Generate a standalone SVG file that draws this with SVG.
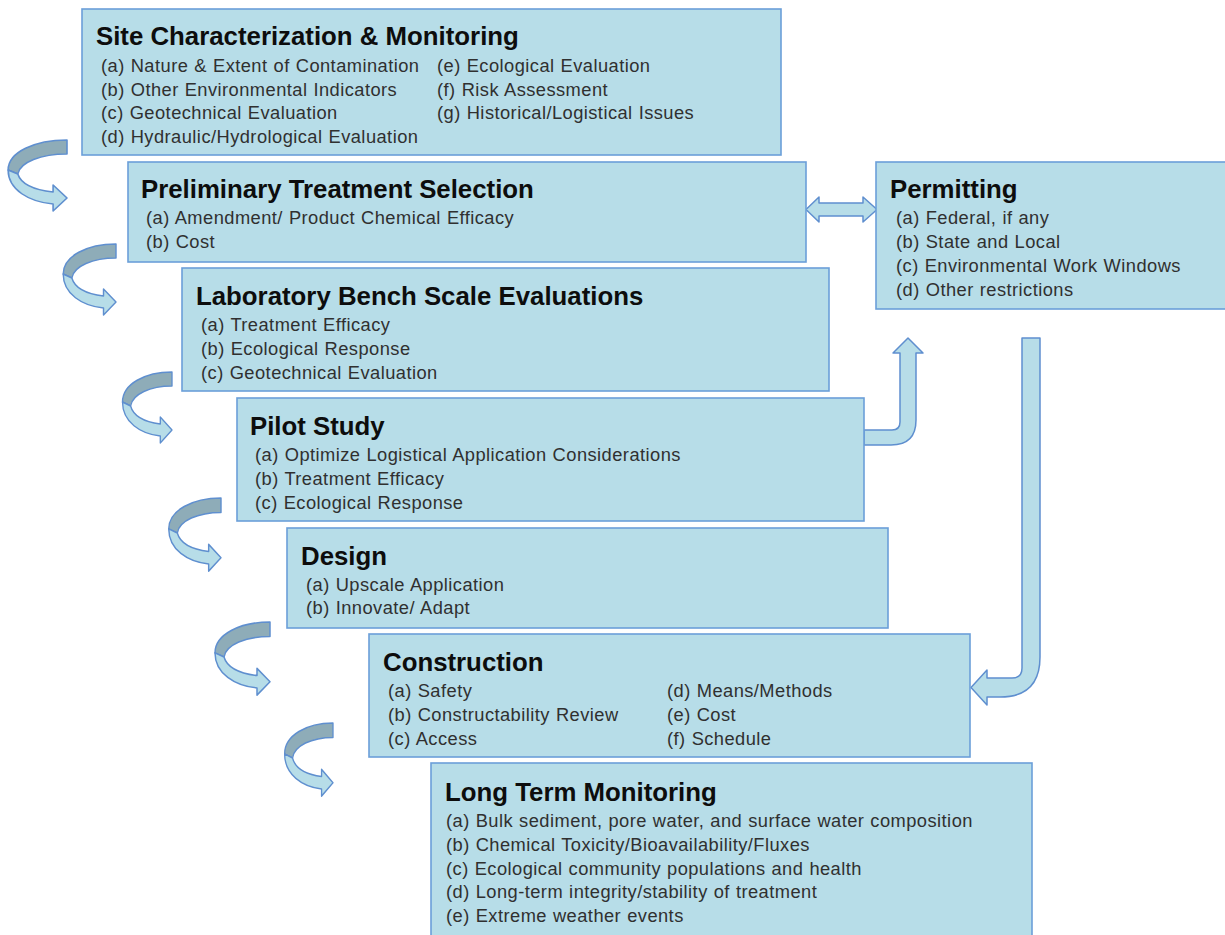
<svg xmlns="http://www.w3.org/2000/svg" width="1225" height="935" viewBox="0 0 1225 935">
<style>
.box{fill:#b7dde8;stroke:#6b9fd9;stroke-width:1.6}
.t{font-family:"Liberation Sans",Arial,sans-serif;font-weight:bold;font-size:25.8px;fill:#0d0d0d}
.i{font-family:"Liberation Sans",Arial,sans-serif;font-size:18.3px;fill:#303030;letter-spacing:0.45px;word-spacing:0.5px}
.arr{fill:#b7dde8;stroke:#5f8fcf;stroke-width:1.5;stroke-linejoin:round}
.dark{fill:#8eacb8;stroke:#5f8fcf;stroke-width:1.5;stroke-linejoin:round}
</style>
<defs>
<g id="curl">
<path class="dark" d="M0,0 C-30,0 -55,12 -55,30 L-46,34 C-44,22 -24,14 0,14 Z"/>
<path class="arr" d="M-55,30 C-55,50 -35,62 -13,64 L-13,71 L0,58 L-13,45 L-13,52 C-30,50 -43,44 -46,34 Z"/>
</g>
</defs>
<rect width="1225" height="935" fill="#ffffff"/>

<g id="connectors">
<use href="#curl" transform="translate(67,140) scale(1.07,1)"/>
<use href="#curl" transform="translate(116,244) scale(0.96,1)"/>
<use href="#curl" transform="translate(172,372) scale(0.9,1)"/>
<use href="#curl" transform="translate(221,498) scale(0.95,1.03)"/>
<use href="#curl" transform="translate(270,622) scale(1,1.03)"/>
<use href="#curl" transform="translate(333,723) scale(0.88,1.03)"/>
<path class="arr" d="M806,209.5 L819,197 L819,203 L863,203 L863,197 L877,209.5 L863,222 L863,216 L819,216 L819,222 Z"/>
<path class="arr" d="M864,430 L892,430 Q900,430 900,422 L900,353 L893,353 L908,338 L923,353 L916,353 L916,420 Q916,445 891,445 L864,445 Z"/>
<path class="arr" d="M1022,338 L1040,338 L1040,657 Q1040,697 1000,697 L987,697 L987,705 L971,687.5 L987,670 L987,678 L1012,678 Q1022,678 1022,668 Z"/>
</g>

<g id="site">
<rect class="box" x="82" y="9" width="699" height="146"/>
<text class="t" x="96" y="44.5">Site Characterization &amp; Monitoring</text>
<text class="i" x="101" y="72">(a) Nature &amp; Extent of Contamination</text>
<text class="i" x="101" y="95.5">(b) Other Environmental Indicators</text>
<text class="i" x="101" y="119">(c) Geotechnical Evaluation</text>
<text class="i" x="101" y="143">(d) Hydraulic/Hydrological Evaluation</text>
<text class="i" x="437" y="72">(e) Ecological Evaluation</text>
<text class="i" x="437" y="95.5">(f) Risk Assessment</text>
<text class="i" x="437" y="119">(g) Historical/Logistical Issues</text>
</g>

<g id="prelim">
<rect class="box" x="128" y="162" width="678" height="100"/>
<text class="t" x="141" y="197.5">Preliminary Treatment Selection</text>
<text class="i" x="146" y="224">(a) Amendment/ Product Chemical Efficacy</text>
<text class="i" x="146" y="248">(b) Cost</text>
</g>

<g id="permitting">
<rect class="box" x="876" y="162" width="352" height="147"/>
<text class="t" x="890" y="197.5">Permitting</text>
<text class="i" x="896" y="224">(a) Federal, if any</text>
<text class="i" x="896" y="248">(b) State and Local</text>
<text class="i" x="896" y="272">(c) Environmental Work Windows</text>
<text class="i" x="896" y="296">(d) Other restrictions</text>
</g>

<g id="lab">
<rect class="box" x="182" y="268" width="647" height="123"/>
<text class="t" x="196" y="304.5">Laboratory Bench Scale Evaluations</text>
<text class="i" x="201" y="331">(a) Treatment Efficacy</text>
<text class="i" x="201" y="355">(b) Ecological Response</text>
<text class="i" x="201" y="379">(c) Geotechnical Evaluation</text>
</g>

<g id="pilot">
<rect class="box" x="237" y="398" width="627" height="123"/>
<text class="t" x="250" y="434.5">Pilot Study</text>
<text class="i" x="255" y="461">(a) Optimize Logistical Application Considerations</text>
<text class="i" x="255" y="485">(b) Treatment Efficacy</text>
<text class="i" x="255" y="509">(c) Ecological Response</text>
</g>

<g id="design">
<rect class="box" x="287" y="528" width="601" height="100"/>
<text class="t" x="301" y="564.5">Design</text>
<text class="i" x="306" y="591">(a) Upscale Application</text>
<text class="i" x="306" y="614">(b) Innovate/ Adapt</text>
</g>

<g id="construction">
<rect class="box" x="369" y="634" width="601" height="123"/>
<text class="t" x="383" y="670.5">Construction</text>
<text class="i" x="388" y="697">(a) Safety</text>
<text class="i" x="388" y="721">(b) Constructability Review</text>
<text class="i" x="388" y="745">(c) Access</text>
<text class="i" x="667" y="697">(d) Means/Methods</text>
<text class="i" x="667" y="721">(e) Cost</text>
<text class="i" x="667" y="745">(f) Schedule</text>
</g>

<g id="longterm">
<rect class="box" x="431" y="763" width="601" height="180"/>
<text class="t" x="445" y="800.5">Long Term Monitoring</text>
<text class="i" x="446" y="827">(a) Bulk sediment, pore water, and surface water composition</text>
<text class="i" x="446" y="851">(b) Chemical Toxicity/Bioavailability/Fluxes</text>
<text class="i" x="446" y="874.5">(c) Ecological community populations and health</text>
<text class="i" x="446" y="898">(d) Long-term integrity/stability of treatment</text>
<text class="i" x="446" y="922">(e) Extreme weather events</text>
</g>
</svg>
